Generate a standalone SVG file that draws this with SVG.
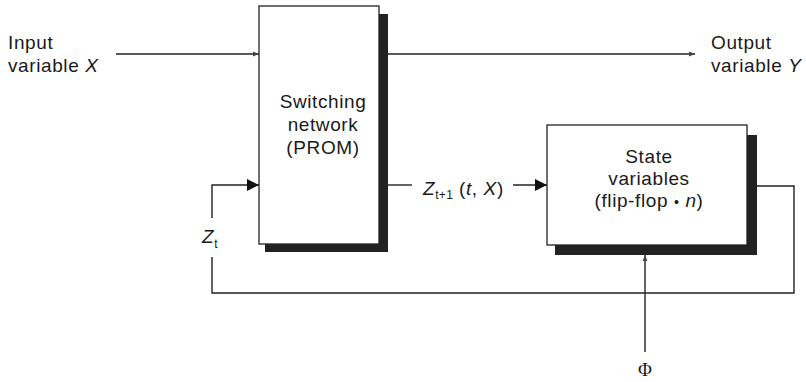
<svg xmlns="http://www.w3.org/2000/svg" width="806" height="382" viewBox="0 0 806 382">
  <defs>
    <style>
      .t { font-family: "Liberation Sans", Arial, sans-serif; font-size: 19px; letter-spacing: 0.6px; fill: #1a1a1a; }
      .it { font-style: italic; }
      .sub { font-size: 12px; letter-spacing: 0.3px; }
      .box { fill: #ffffff; stroke: #222; stroke-width: 1.3; }
      .shadow { fill: #222; }
      .ln { fill: none; stroke: #222; stroke-width: 1.4; }
    </style>
    <marker id="arrSmall" viewBox="0 0 10 10" refX="10" refY="5" markerWidth="9" markerHeight="6" markerUnits="userSpaceOnUse" orient="auto">
      <path d="M0,1 L10,5 L0,9 Z" fill="#444"/>
    </marker>
    <marker id="arrSolid" viewBox="0 0 10 10" refX="10" refY="5" markerWidth="14" markerHeight="12" markerUnits="userSpaceOnUse" orient="auto">
      <path d="M0,0 L10,5 L0,10 Z" fill="#111"/>
    </marker>
  </defs>
  <rect width="806" height="382" fill="#ffffff"/>

  <g id="connectors">
    <line class="ln" x1="116" y1="54" x2="259" y2="54" marker-end="url(#arrSmall)"/>
    <line class="ln" x1="388" y1="54" x2="695" y2="54" marker-end="url(#arrSmall)"/>
    <line class="ln" x1="388" y1="185" x2="412" y2="185"/>
    <line class="ln" x1="513" y1="185" x2="547" y2="185" marker-end="url(#arrSolid)"/>
    <polyline class="ln" points="757,186 794,186 794,293 212,293 212,257"/>
    <polyline class="ln" points="212,218 212,185 259,185" marker-end="url(#arrSolid)"/>
    <line class="ln" x1="645" y1="352" x2="645" y2="255" marker-end="url(#arrSmall)"/>
  </g>

  <g id="switching-network">
    <rect class="shadow" x="265" y="14" width="123" height="238"/>
    <rect class="box" x="259" y="6" width="120" height="238"/>
    <text class="t" x="323" y="108" text-anchor="middle">Switching</text>
    <text class="t" x="323" y="131" text-anchor="middle">network</text>
    <text class="t" x="323" y="154" text-anchor="middle">(PROM)</text>
  </g>

  <g id="state-variables">
    <rect class="shadow" x="555" y="135" width="202" height="120"/>
    <rect class="box" x="547" y="125" width="200" height="120"/>
    <text class="t" x="649" y="163" text-anchor="middle">State</text>
    <text class="t" x="649" y="185" text-anchor="middle">variables</text>
    <text class="t" x="649" y="207" text-anchor="middle">(flip-flop <tspan font-size="14">•</tspan> <tspan class="it">n</tspan>)</text>
  </g>

  <g id="input-label">
    <text class="t" x="8" y="49">Input</text>
    <text class="t" x="8" y="72">variable <tspan class="it">X</tspan></text>
  </g>

  <g id="output-label">
    <text class="t" x="711" y="49">Output</text>
    <text class="t" x="711" y="72">variable <tspan class="it">Y</tspan></text>
  </g>

  <g id="zt1-label">
    <text class="t" x="423" y="195"><tspan class="it">Z</tspan><tspan class="sub" dy="4">t+1</tspan><tspan dy="-4"> (</tspan><tspan class="it">t</tspan>, <tspan class="it">X</tspan>)</text>
  </g>

  <g id="zt-label">
    <text class="t" x="202" y="243"><tspan class="it">Z</tspan><tspan class="sub" dy="5">t</tspan></text>
  </g>

  <g id="phi-label">
    <text x="645" y="376" text-anchor="middle" font-family="Liberation Serif, serif" font-size="19" fill="#1a1a1a">Φ</text>
  </g>
</svg>
